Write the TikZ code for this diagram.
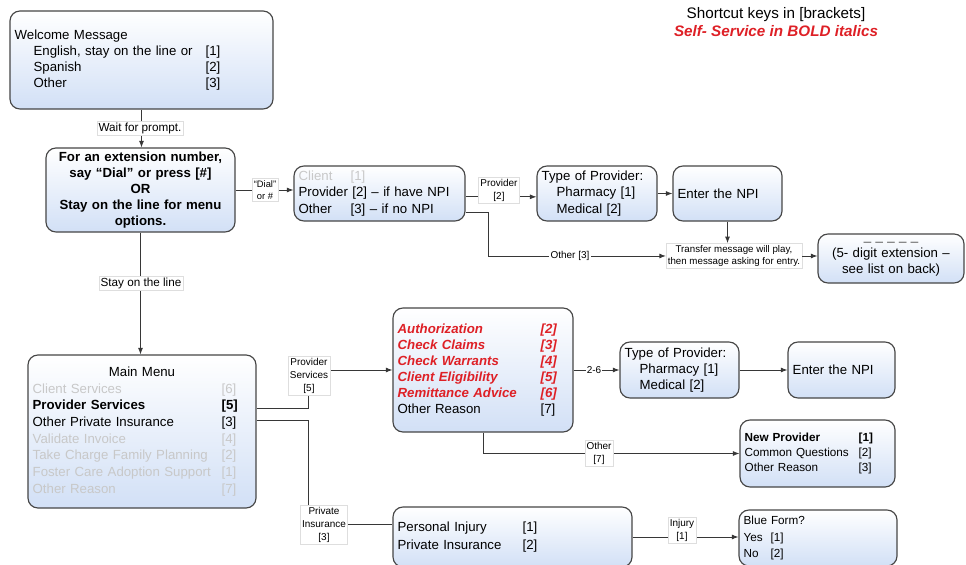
\documentclass[tikz,border=0pt]{standalone}
\usepackage{fontspec}
\setmainfont{Liberation Sans}
\usetikzlibrary{arrows.meta}

\definecolor{boxblue}{RGB}{210,224,246}
\definecolor{boxedge}{RGB}{70,70,70}
\definecolor{lineclr}{RGB}{55,55,55}
\definecolor{selfred}{RGB}{222,32,38}
\definecolor{dimtext}{RGB}{200,200,200}
\definecolor{lblgray}{RGB}{222,222,222}

\newcommand{\boxfont}{\fontsize{11.3}{13.8}\selectfont}
\newcommand{\smallboxfont}{\fontsize{10}{12.8}\selectfont}
\newcommand{\lblfont}{\fontsize{8.5}{11}\selectfont}
\newcommand{\selfsvc}[1]{\textcolor{selfred}{\bfseries\itshape #1}}

\tikzset{
  menubox/.style={draw=boxedge, line width=1pt, rounded corners=0.3cm,
    top color=white, bottom color=boxblue, inner xsep=0.14cm, inner ysep=0pt,
    align=left, font=\boxfont},
  lbl/.style={draw=lblgray, fill=white, inner sep=1.5pt, align=center, font=\lblfont},
  bare/.style={fill=white, inner sep=1pt, font=\lblfont},
  conn/.style={draw=lineclr, line width=0.75pt},
  >={Latex[length=5.5pt,width=4.2pt]}
}

\begin{document}
\begin{tikzpicture}[x=0.03cm, y=-0.03cm]
\useasboundingbox (0,0) rectangle (966,565);

% legend
\node[font=\fontsize{13}{15.4}\selectfont, align=center] (legend) at (776,22)
  {Shortcut keys in [brackets]\\\selfsvc{Self- Service in BOLD italics}};

% upper part
\node[menubox, text width=7.61cm, minimum height=2.94cm] (welcome) at (141.5,60)
  {Welcome Message\\
   \hspace*{0.57cm}\makebox[5.16cm][l]{English, stay on the line or}[1]\\
   \hspace*{0.57cm}\makebox[5.16cm][l]{Spanish}[2]\\
   \hspace*{0.57cm}\makebox[5.16cm][l]{Other}[3]};
\node[menubox, text width=5.39cm, minimum height=2.52cm, align=center, font=\boxfont\bfseries] (ext) at (140.5,190)
  {For an extension number,\\say “Dial” or press [\#]\\OR\\Stay on the line for menu\\options.};
\node[menubox, text width=4.85cm, minimum height=1.65cm] (client) at (379.5,193.5)
  {\textcolor{dimtext}{\makebox[1.56cm][l]{Client}[1]}\\
   Provider [2] – if have NPI\\
   \makebox[1.56cm][l]{Other}[3] – if no NPI};
\node[menubox, text width=3.32cm, minimum height=1.65cm] (top1) at (597,193.5)
  {Type of Provider:\\\hspace*{0.45cm}Pharmacy [1]\\\hspace*{0.45cm}Medical [2]};
\node[menubox, text width=2.99cm, minimum height=1.65cm] (npi1) at (727.5,193.5) {Enter the NPI};
\node[lbl, font=\fontsize{8.3}{10.8}\selectfont] (xfer) at (734,256)
  {Transfer message will play,\\then message asking for entry.};
\node[menubox, text width=4.10cm, minimum height=1.47cm, align=center] (ext5) at (891,258.5)
  {\textcolor{boxedge}{\_ \_ \_ \_ \_}\\(5- digit extension –\\see list on back)};

% main menu and below
\node[menubox, text width=6.56cm, minimum height=4.59cm, font=\fontsize{11.3}{14.2}\selectfont] (mm) at (142,431.5)
  {\makebox[6.56cm]{Main Menu}\\
   \textcolor{dimtext}{\makebox[5.67cm][l]{Client Services}[6]}\\
   \textbf{\makebox[5.67cm][l]{Provider Services}[5]}\\
   \makebox[5.67cm][l]{Other Private Insurance}[3]\\
   \textcolor{dimtext}{\makebox[5.67cm][l]{Validate Invoice}[4]}\\
   \textcolor{dimtext}{\makebox[5.67cm][l]{Take Charge Family Planning}[2]}\\
   \textcolor{dimtext}{\makebox[5.67cm][l]{Foster Care Adoption Support}[1]}\\
   \textcolor{dimtext}{\makebox[5.67cm][l]{Other Reason}[7]}};
\node[menubox, text width=5.12cm, minimum height=3.72cm] (auth) at (483,370)
  {\selfsvc{\makebox[4.29cm][l]{Authorization}[2]}\\
   \selfsvc{\makebox[4.29cm][l]{Check Claims}[3]}\\
   \selfsvc{\makebox[4.29cm][l]{Check Warrants}[4]}\\
   \selfsvc{\makebox[4.29cm][l]{Client Eligibility}[5]}\\
   \selfsvc{\makebox[4.29cm][l]{Remittance Advice}[6]}\\
   \makebox[4.29cm][l]{Other Reason}[7]};
\node[menubox, text width=3.29cm, minimum height=1.68cm] (top2) at (679.5,370)
  {Type of Provider:\\\hspace*{0.45cm}Pharmacy [1]\\\hspace*{0.45cm}Medical [2]};
\node[menubox, text width=2.93cm, minimum height=1.68cm] (npi2) at (841.5,370) {Enter the NPI};
\node[menubox, text width=4.37cm, minimum height=2.01cm, font=\smallboxfont] (newprov) at (817.5,453.5)
  {\textbf{\makebox[3.42cm][l]{New Provider}[1]}\\
   \makebox[3.42cm][l]{Common Questions}[2]\\
   \makebox[3.42cm][l]{Other Reason}[3]};
\node[menubox, text width=6.89cm, minimum height=1.8cm, font=\fontsize{11.3}{15}\selectfont] (pi) at (512.5,537)
  {\makebox[3.75cm][l]{Personal Injury}[1]\\\makebox[3.75cm][l]{Private Insurance}[2]};
\node[menubox, text width=4.46cm, minimum height=1.68cm, font=\fontsize{10}{14}\selectfont] (bf) at (818,538)
  {Blue Form?\\\makebox[0.81cm][l]{Yes}[1]\\\makebox[0.81cm][l]{No}[2]};

% connectors
\draw[conn,->] (welcome.south) -- (welcome.south |- ext.north);
\draw[conn,->] (ext.east) -- (ext.east -| client.west);
\draw[conn,->] ([yshift=-0.1cm]client.east) -- ([yshift=-0.1cm]top1.west);
\draw[conn,->] (top1.east) -- (npi1.west);
\draw[conn,->] (npi1.south) -- (npi1.south |- xfer.north);
\draw[conn,->] ([yshift=-0.58cm]client.east) -- ++(23,0) |- (xfer.west);
\draw[conn,->] (xfer.east) -- (xfer.east -| ext5.west);
\draw[conn,->] (ext.south) -- (ext.south |- mm.north);
\draw[conn,->] ([yshift=0.7cm]mm.east) -| ([xshift=-2.52cm]auth.west) -- (auth.west);
\draw[conn] ([yshift=0.345cm]mm.east) -| ([xshift=-2.52cm,yshift=0.39cm]pi.west) -- ([yshift=0.39cm]pi.west);
\draw[conn,->] (auth.south) |- (newprov.west);
\draw[conn,->] (auth.east) -- (top2.west);
\draw[conn,->] (top2.east) -- (npi2.west);
\draw[conn,->] (pi.east) -- (pi.east -| bf.west);

% connector labels
\node[lbl, font=\fontsize{10}{12}\selectfont] (waitlbl) at (140,128) {Wait for prompt.};
\node[lbl, font=\fontsize{10}{12}\selectfont] (staylbl) at (141,283) {Stay on the line};
\node[lbl, font=\fontsize{8}{10.5}\selectfont] (diallbl) at (265,190) {“Dial”\\or \#};
\node[lbl] (provlbl) at (499,190) {Provider\\{}[2]};
\node[bare] (oth3lbl) at (570,256) {Other [3]};
\node[lbl] (svclbl) at (309,376) {Provider\\Services\\{}[5]};
\node[lbl] (inslbl) at (324,525) {Private\\Insurance\\{}[3]};
\node[bare] (rangelbl) at (594,370) {2-6};
\node[lbl] (oth7lbl) at (599,453) {Other\\{}[7]};
\node[lbl] (injlbl) at (682,530) {Injury\\{}[1]};
\end{tikzpicture}
\end{document}
